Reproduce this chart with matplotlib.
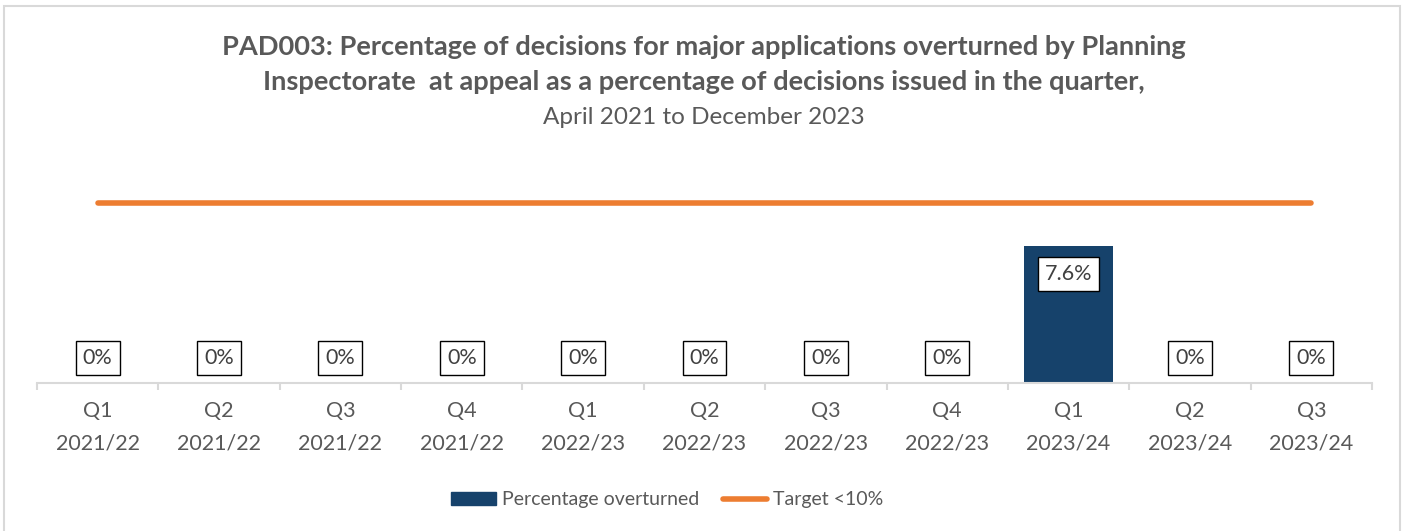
import matplotlib
matplotlib.use('Agg')
import matplotlib.pyplot as plt
from matplotlib.patches import Rectangle, Patch
from matplotlib.lines import Line2D
import numpy as np

plt.rcParams['font.family'] = ['Lato', 'DejaVu Sans']

# Data
quarters = ['Q1', 'Q2', 'Q3', 'Q4', 'Q1', 'Q2', 'Q3', 'Q4', 'Q1', 'Q2', 'Q3']
years = ['2021/22'] * 4 + ['2022/23'] * 4 + ['2023/24'] * 3
overturned = [0, 0, 0, 0, 0, 0, 0, 0, 7.6, 0, 0]
target = [10] * 11

grey = '#595959'
navy = '#16426B'
orange = '#ED7D31'

fig = plt.figure(figsize=(14.08, 5.31), dpi=100)
ax = fig.add_axes([37 / 1408, 1 - 383 / 531, (1372 - 37) / 1408, 216 / 531])

x = np.arange(len(quarters))
bars = ax.bar(x, overturned, width=0.74, color=navy, zorder=2)
ax.plot(x, target, color=orange, linewidth=4, solid_capstyle='round', zorder=3)

ax.set_xlim(-0.5, len(quarters) - 0.5)
ax.set_ylim(0, 12)

# data labels: inside end for real bars, above for zero values
box = dict(boxstyle='square,pad=0.33', fc='white', ec='black', lw=1)
for xi, v in zip(x, overturned):
    lab = f'{v:g}%'
    off = -20 if v > 0 else 18
    ax.annotate(lab, (xi, v), xytext=(0, off), textcoords='offset points',
                ha='center', va='center', fontsize=15.5, color='#404040',
                bbox=box, zorder=4)

# axes styling
for s in ['top', 'right', 'left']:
    ax.spines[s].set_visible(False)
ax.spines['bottom'].set_color('#D9D9D9')
ax.spines['bottom'].set_linewidth(1.5)
ax.set_yticks([])
ax.set_xticks(x)
ax.set_xticklabels([f'{q}\n{y}' for q, y in zip(quarters, years)],
                   fontsize=15.5, color=grey, linespacing=1.75)
ax.tick_params(axis='x', which='major', length=0, pad=13)
ax.set_xticks(np.arange(-0.5, len(quarters)), minor=True)
ax.tick_params(axis='x', which='minor', length=5, width=1.5, color='#D9D9D9', direction='out')

# title
fig.text(0.5, 1 - 47 / 531, 'PAD003: Percentage of decisions for major applications overturned by Planning',
         ha='center', va='center', fontsize=19.6, fontweight='bold', color=grey)
fig.text(0.5, 1 - 82 / 531, 'Inspectorate  at appeal as a percentage of decisions issued in the quarter,',
         ha='center', va='center', fontsize=19.6, fontweight='bold', color=grey)
fig.text(0.5, 1 - 117 / 531, 'April 2021 to December 2023',
         ha='center', va='center', fontsize=17.5, color=grey)

# legend
handles = [Patch(facecolor=navy, edgecolor=navy, label='Percentage overturned'),
           Line2D([0], [0], color=orange, lw=4, solid_capstyle='round', label='Target <10%')]
fig.legend(handles=handles, loc='center', bbox_to_anchor=(0.474, 1 - 500 / 531), ncol=2,
           frameon=False, fontsize=14, labelcolor=grey, handlelength=2.3, handleheight=0.6,
           handletextpad=0.3, columnspacing=1.2)

# chart border
fig.patches.append(Rectangle((4 / 1408, -0.02), 1396 / 1408, 1 - 6 / 531 + 0.02,
                             transform=fig.transFigure, fill=False, ec='#D9D9D9', lw=1.5))

fig.savefig('out.png', dpi=100)
